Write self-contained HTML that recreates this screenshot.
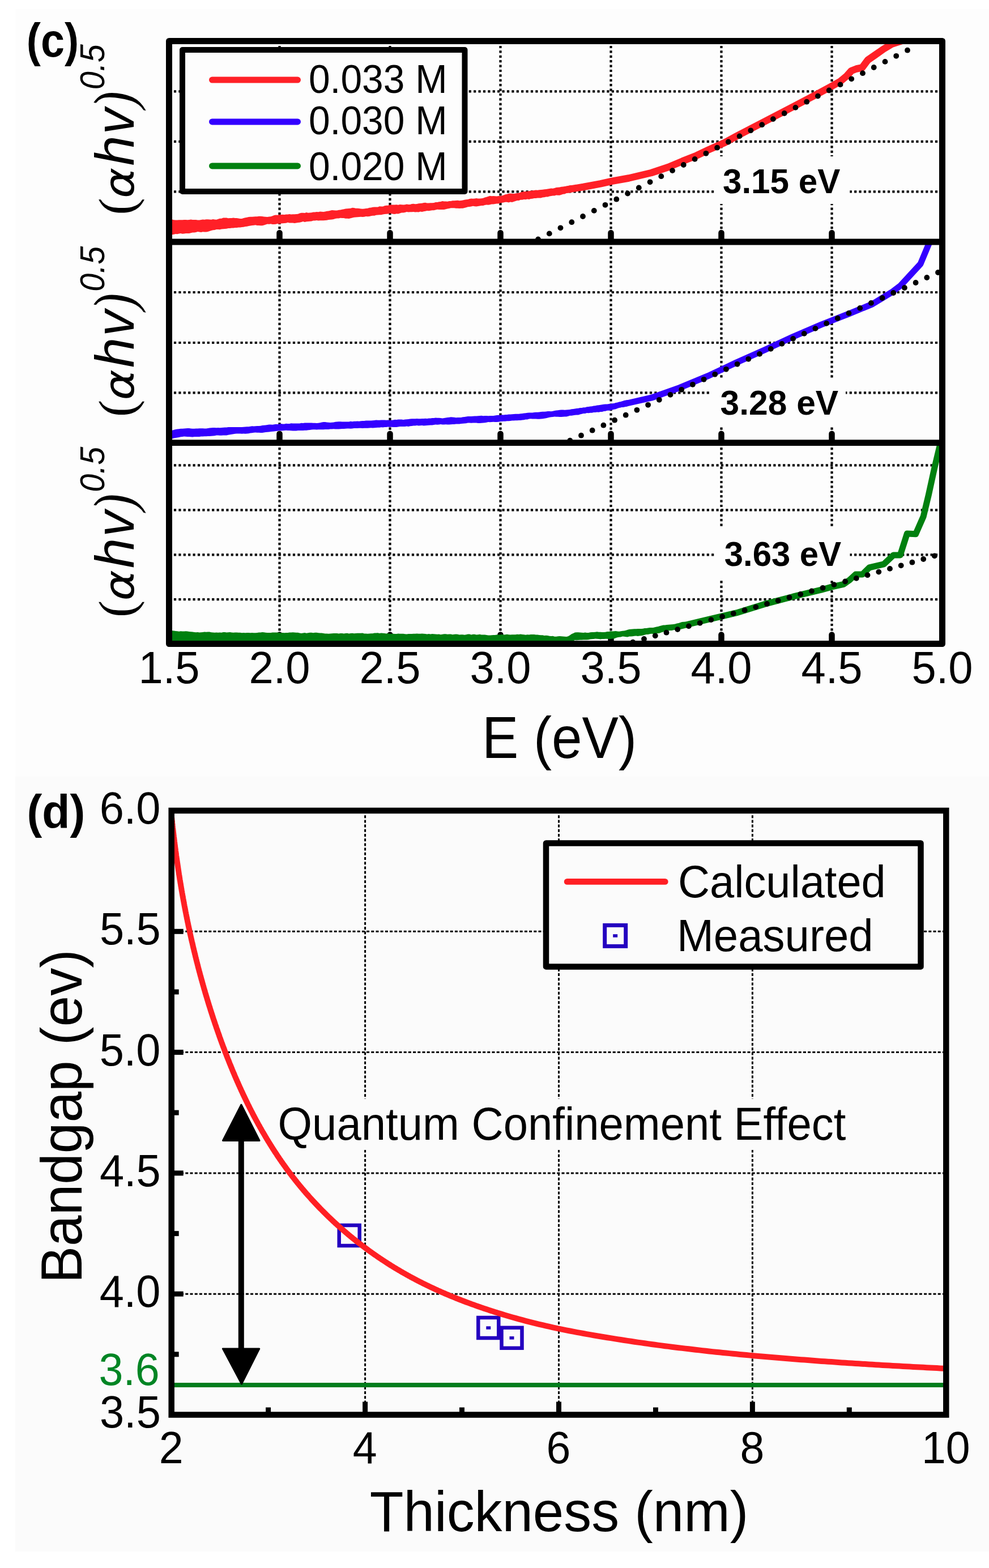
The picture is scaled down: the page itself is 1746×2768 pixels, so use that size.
<!DOCTYPE html>
<html><head><meta charset="utf-8"><style>
html,body{margin:0;padding:0;background:#fff;}
svg{display:block;}
text{font-family:"Liberation Sans", Arial, sans-serif;}
</style></head><body>
<svg width="1746" height="2768" viewBox="0 0 1746 2768">
<rect width="1746" height="2768" fill="#fff"/>
<rect x="27" y="16" width="1719" height="1355" fill="#fdfdfd"/>
<rect x="27" y="1371" width="1719" height="1368" fill="#fbfbfb"/>
<line x1="298.5" y1="161.3" x2="1663.5" y2="161.3" stroke="#000" stroke-width="4.2" stroke-dasharray="4.2 4.2" fill="none"/>
<line x1="298.5" y1="249.9" x2="1663.5" y2="249.9" stroke="#000" stroke-width="4.2" stroke-dasharray="4.2 4.2" fill="none"/>
<line x1="298.5" y1="338.4" x2="1663.5" y2="338.4" stroke="#000" stroke-width="4.2" stroke-dasharray="4.2 4.2" fill="none"/>
<line x1="298.5" y1="516.0" x2="1663.5" y2="516.0" stroke="#000" stroke-width="4.2" stroke-dasharray="4.2 4.2" fill="none"/>
<line x1="298.5" y1="605.0" x2="1663.5" y2="605.0" stroke="#000" stroke-width="4.2" stroke-dasharray="4.2 4.2" fill="none"/>
<line x1="298.5" y1="693.3" x2="1663.5" y2="693.3" stroke="#000" stroke-width="4.2" stroke-dasharray="4.2 4.2" fill="none"/>
<line x1="298.5" y1="821.4" x2="1663.5" y2="821.4" stroke="#000" stroke-width="4.2" stroke-dasharray="4.2 4.2" fill="none"/>
<line x1="298.5" y1="900.3" x2="1663.5" y2="900.3" stroke="#000" stroke-width="4.2" stroke-dasharray="4.2 4.2" fill="none"/>
<line x1="298.5" y1="979.4" x2="1663.5" y2="979.4" stroke="#000" stroke-width="4.2" stroke-dasharray="4.2 4.2" fill="none"/>
<line x1="298.5" y1="1058.2" x2="1663.5" y2="1058.2" stroke="#000" stroke-width="4.2" stroke-dasharray="4.2 4.2" fill="none"/>
<line x1="493.5" y1="72.5" x2="493.5" y2="427.0" stroke="#000" stroke-width="4.2" stroke-dasharray="4.2 4.2" fill="none"/>
<line x1="493.5" y1="427.0" x2="493.5" y2="781.7" stroke="#000" stroke-width="4.2" stroke-dasharray="4.2 4.2" fill="none"/>
<line x1="493.5" y1="781.7" x2="493.5" y2="1136.5" stroke="#000" stroke-width="4.2" stroke-dasharray="4.2 4.2" fill="none"/>
<line x1="688.5" y1="72.5" x2="688.5" y2="427.0" stroke="#000" stroke-width="4.2" stroke-dasharray="4.2 4.2" fill="none"/>
<line x1="688.5" y1="427.0" x2="688.5" y2="781.7" stroke="#000" stroke-width="4.2" stroke-dasharray="4.2 4.2" fill="none"/>
<line x1="688.5" y1="781.7" x2="688.5" y2="1136.5" stroke="#000" stroke-width="4.2" stroke-dasharray="4.2 4.2" fill="none"/>
<line x1="883.5" y1="72.5" x2="883.5" y2="427.0" stroke="#000" stroke-width="4.2" stroke-dasharray="4.2 4.2" fill="none"/>
<line x1="883.5" y1="427.0" x2="883.5" y2="781.7" stroke="#000" stroke-width="4.2" stroke-dasharray="4.2 4.2" fill="none"/>
<line x1="883.5" y1="781.7" x2="883.5" y2="1136.5" stroke="#000" stroke-width="4.2" stroke-dasharray="4.2 4.2" fill="none"/>
<line x1="1078.5" y1="72.5" x2="1078.5" y2="427.0" stroke="#000" stroke-width="4.2" stroke-dasharray="4.2 4.2" fill="none"/>
<line x1="1078.5" y1="427.0" x2="1078.5" y2="781.7" stroke="#000" stroke-width="4.2" stroke-dasharray="4.2 4.2" fill="none"/>
<line x1="1078.5" y1="781.7" x2="1078.5" y2="1136.5" stroke="#000" stroke-width="4.2" stroke-dasharray="4.2 4.2" fill="none"/>
<line x1="1273.5" y1="72.5" x2="1273.5" y2="427.0" stroke="#000" stroke-width="4.2" stroke-dasharray="4.2 4.2" fill="none"/>
<line x1="1273.5" y1="427.0" x2="1273.5" y2="781.7" stroke="#000" stroke-width="4.2" stroke-dasharray="4.2 4.2" fill="none"/>
<line x1="1273.5" y1="781.7" x2="1273.5" y2="1136.5" stroke="#000" stroke-width="4.2" stroke-dasharray="4.2 4.2" fill="none"/>
<line x1="1468.5" y1="72.5" x2="1468.5" y2="427.0" stroke="#000" stroke-width="4.2" stroke-dasharray="4.2 4.2" fill="none"/>
<line x1="1468.5" y1="427.0" x2="1468.5" y2="781.7" stroke="#000" stroke-width="4.2" stroke-dasharray="4.2 4.2" fill="none"/>
<line x1="1468.5" y1="781.7" x2="1468.5" y2="1136.5" stroke="#000" stroke-width="4.2" stroke-dasharray="4.2 4.2" fill="none"/>
<rect x="1260.7" y="276" width="239.5999999999999" height="84" fill="#fdfdfd"/>
<rect x="1255" y="667" width="238" height="87" fill="#fdfdfd"/>
<rect x="1262.5" y="931.4" width="238.0" height="92.20000000000005" fill="#fdfdfd"/>
<text x="1275.92" y="340.60" font-size="61.50" font-weight="bold" font-style="normal" textLength="207.49" lengthAdjust="spacingAndGlyphs" fill="#000" >3.15 eV</text>
<text x="1271.51" y="731.90" font-size="61.50" font-weight="bold" font-style="normal" textLength="208.70" lengthAdjust="spacingAndGlyphs" fill="#000" >3.28 eV</text>
<text x="1278.73" y="998.80" font-size="61.50" font-weight="bold" font-style="normal" textLength="206.38" lengthAdjust="spacingAndGlyphs" fill="#000" >3.63 eV</text>
<line x1="493.5" y1="427.0" x2="493.5" y2="411.0" stroke="#000" stroke-width="10.5" stroke-linecap="round"/>
<line x1="688.5" y1="427.0" x2="688.5" y2="411.0" stroke="#000" stroke-width="10.5" stroke-linecap="round"/>
<line x1="883.5" y1="427.0" x2="883.5" y2="411.0" stroke="#000" stroke-width="10.5" stroke-linecap="round"/>
<line x1="1078.5" y1="427.0" x2="1078.5" y2="411.0" stroke="#000" stroke-width="10.5" stroke-linecap="round"/>
<line x1="1273.5" y1="427.0" x2="1273.5" y2="411.0" stroke="#000" stroke-width="10.5" stroke-linecap="round"/>
<line x1="1468.5" y1="427.0" x2="1468.5" y2="411.0" stroke="#000" stroke-width="10.5" stroke-linecap="round"/>
<line x1="493.5" y1="781.7" x2="493.5" y2="765.7" stroke="#000" stroke-width="10.5" stroke-linecap="round"/>
<line x1="688.5" y1="781.7" x2="688.5" y2="765.7" stroke="#000" stroke-width="10.5" stroke-linecap="round"/>
<line x1="883.5" y1="781.7" x2="883.5" y2="765.7" stroke="#000" stroke-width="10.5" stroke-linecap="round"/>
<line x1="1078.5" y1="781.7" x2="1078.5" y2="765.7" stroke="#000" stroke-width="10.5" stroke-linecap="round"/>
<line x1="1273.5" y1="781.7" x2="1273.5" y2="765.7" stroke="#000" stroke-width="10.5" stroke-linecap="round"/>
<line x1="1468.5" y1="781.7" x2="1468.5" y2="765.7" stroke="#000" stroke-width="10.5" stroke-linecap="round"/>
<line x1="493.5" y1="1136.5" x2="493.5" y2="1120.5" stroke="#000" stroke-width="10.5" stroke-linecap="round"/>
<line x1="688.5" y1="1136.5" x2="688.5" y2="1120.5" stroke="#000" stroke-width="10.5" stroke-linecap="round"/>
<line x1="883.5" y1="1136.5" x2="883.5" y2="1120.5" stroke="#000" stroke-width="10.5" stroke-linecap="round"/>
<line x1="1078.5" y1="1136.5" x2="1078.5" y2="1120.5" stroke="#000" stroke-width="10.5" stroke-linecap="round"/>
<line x1="1273.5" y1="1136.5" x2="1273.5" y2="1120.5" stroke="#000" stroke-width="10.5" stroke-linecap="round"/>
<line x1="1468.5" y1="1136.5" x2="1468.5" y2="1120.5" stroke="#000" stroke-width="10.5" stroke-linecap="round"/>
<clipPath id="cp1"><rect x="298" y="72" width="1366" height="355"/></clipPath>
<clipPath id="cp2"><rect x="298" y="427" width="1366" height="355"/></clipPath>
<clipPath id="cp3"><rect x="298" y="781" width="1366" height="356"/></clipPath>
<g clip-path="url(#cp1)"><path d="M292.0,388.0 L295.0,387.3 L298.0,388.0 L301.0,387.7 L304.0,387.5 L307.0,388.2 L310.0,388.6 L313.0,388.4 L316.0,388.3 L319.0,388.3 L322.0,388.3 L325.0,388.0 L328.0,387.9 L331.0,388.2 L334.0,388.0 L337.0,387.5 L340.0,388.0 L343.0,388.0 L346.0,388.1 L349.0,388.5 L352.0,388.5 L355.0,388.0 L358.0,387.6 L361.0,387.7 L364.0,387.3 L367.0,387.2 L370.0,387.6 L373.0,387.8 L376.0,386.9 L379.0,387.6 L382.0,387.7 L385.0,386.7 L388.0,385.8 L391.0,385.7 L394.0,384.5 L397.0,384.5 L400.0,384.6 L403.0,385.2 L406.0,385.0 L409.0,384.9 L412.0,384.6 L415.0,385.0 L418.0,385.0 L421.0,385.6 L424.0,386.1 L427.0,385.9 L430.0,384.9 L433.0,384.2 L436.0,383.8 L439.0,383.1 L442.0,382.8 L445.0,382.8 L448.0,382.6 L451.0,382.3 L454.0,382.3 L457.0,381.7 L460.0,381.8 L463.0,382.1 L466.0,382.5 L469.0,382.8 L472.0,383.1 L475.0,382.5 L478.0,382.2 L481.0,381.2 L484.0,380.1 L487.0,379.5 L490.0,379.7 L493.0,378.7 L496.0,378.9 L499.0,378.8 L502.0,379.1 L505.0,378.6 L508.0,378.5 L511.0,378.1 L514.0,378.5 L517.0,378.3 L520.0,378.2 L523.0,377.9 L526.0,377.7 L529.0,376.6 L532.0,375.7 L535.0,375.8 L538.0,375.9 L541.0,375.1 L544.0,375.7 L547.0,375.4 L550.0,375.3 L553.0,374.6 L556.0,374.6 L559.0,374.0 L562.0,374.3 L565.0,373.4 L568.0,373.7 L571.0,374.1 L574.0,373.6 L577.0,372.7 L580.0,372.5 L583.0,371.7 L586.0,371.1 L589.0,371.2 L592.0,371.6 L595.0,371.4 L598.0,370.8 L601.0,370.4 L604.0,369.8 L607.0,369.3 L610.0,368.5 L613.0,368.2 L616.0,368.1 L619.0,367.7 L622.0,366.8 L625.0,367.0 L628.0,367.7 L631.0,367.7 L634.0,368.0 L637.0,368.6 L640.0,368.7 L643.0,368.5 L646.0,368.1 L649.0,367.8 L652.0,366.7 L655.0,366.5 L658.0,365.7 L661.0,365.5 L664.0,365.5 L667.0,365.4 L670.0,364.3 L673.0,364.6 L676.0,364.5 L679.0,363.3 L682.0,362.8 L685.0,362.7 L688.0,361.5 L691.0,361.6 L694.0,361.4 L697.0,361.5 L700.0,361.3 L703.0,361.7 L706.0,361.0 L709.0,361.3 L712.0,361.5 L715.0,361.3 L718.0,360.6 L721.0,361.0 L724.0,360.9 L727.0,360.0 L730.0,359.8 L733.0,360.3 L736.0,360.1 L739.0,359.2 L742.0,358.9 L745.0,358.7 L748.0,358.1 L751.0,357.7 L754.0,358.4 L757.0,358.5 L760.0,358.2 L763.0,358.2 L766.0,358.0 L769.0,357.0 L772.0,356.9 L775.0,356.3 L778.0,356.1 L781.0,354.9 L784.0,355.5 L787.0,355.4 L790.0,355.8 L793.0,354.9 L796.0,354.9 L799.0,354.2 L802.0,354.2 L805.0,353.9 L808.0,353.7 L811.0,354.3 L814.0,354.1 L817.0,353.4 L820.0,352.7 L823.0,352.3 L826.0,351.9 L829.0,350.9 L832.0,350.6 L835.0,350.7 L838.0,350.5 L841.0,350.0 L844.0,350.5 L847.0,350.5 L850.0,350.3 L853.0,349.8 L856.0,348.6 L859.0,347.7 L862.0,346.8 L865.0,345.8 L868.0,346.2 L871.0,346.1 L874.0,346.2 L877.0,346.5 L880.0,346.1 L883.0,345.8 L886.0,345.6 L889.0,344.5 L892.0,343.2 L895.0,342.7 L898.0,341.8 L901.0,341.4 L904.0,341.7 L907.0,342.0 L910.0,341.6 L913.0,341.1 L916.0,340.7 L919.0,339.5 L922.0,338.4 L925.0,338.2 L928.0,338.1 L931.0,337.7 L934.0,337.2 L937.0,336.7 L940.0,336.5 L943.0,335.9 L946.0,335.4 L949.0,335.7 L952.0,335.2 L955.0,335.1 L958.0,334.7 L961.0,334.2 L964.0,333.9 L967.0,333.6 L970.0,333.1 L973.0,332.6 L976.0,332.7 L979.0,332.0 L982.0,331.1 L985.0,330.8 L988.0,330.6 L991.0,329.8 L994.0,329.5 L997.0,329.1 L1000.0,328.7 L1003.0,328.0 L1006.0,327.3 L1009.0,327.1 L1009.0,339.5 L1006.0,340.2 L1003.0,340.3 L1000.0,341.0 L997.0,342.4 L994.0,342.7 L991.0,343.8 L988.0,344.7 L985.0,344.7 L982.0,344.5 L979.0,345.6 L976.0,345.5 L973.0,346.0 L970.0,346.4 L967.0,347.5 L964.0,347.4 L961.0,348.2 L958.0,348.4 L955.0,349.6 L952.0,349.4 L949.0,349.5 L946.0,350.1 L943.0,350.0 L940.0,350.7 L937.0,351.1 L934.0,352.0 L931.0,351.5 L928.0,352.2 L925.0,351.9 L922.0,352.7 L919.0,352.8 L916.0,353.9 L913.0,354.0 L910.0,355.1 L907.0,356.0 L904.0,356.9 L901.0,356.5 L898.0,357.4 L895.0,356.8 L892.0,356.7 L889.0,357.4 L886.0,358.1 L883.0,358.5 L880.0,359.4 L877.0,359.5 L874.0,359.9 L871.0,360.4 L868.0,360.4 L865.0,361.3 L862.0,361.7 L859.0,361.4 L856.0,362.0 L853.0,362.9 L850.0,363.1 L847.0,363.5 L844.0,363.9 L841.0,364.4 L838.0,364.2 L835.0,363.8 L832.0,364.6 L829.0,364.9 L826.0,365.2 L823.0,366.3 L820.0,367.0 L817.0,367.7 L814.0,367.8 L811.0,367.9 L808.0,367.7 L805.0,367.8 L802.0,367.3 L799.0,367.3 L796.0,367.3 L793.0,368.0 L790.0,368.5 L787.0,369.3 L784.0,369.9 L781.0,369.9 L778.0,370.0 L775.0,369.9 L772.0,369.8 L769.0,370.6 L766.0,371.3 L763.0,371.3 L760.0,371.7 L757.0,372.3 L754.0,372.1 L751.0,372.8 L748.0,373.2 L745.0,374.0 L742.0,373.6 L739.0,374.5 L736.0,374.2 L733.0,374.6 L730.0,373.9 L727.0,374.2 L724.0,374.2 L721.0,374.4 L718.0,374.0 L715.0,375.0 L712.0,375.4 L709.0,375.5 L706.0,376.6 L703.0,377.4 L700.0,377.3 L697.0,378.1 L694.0,377.7 L691.0,376.9 L688.0,376.7 L685.0,377.6 L682.0,377.7 L679.0,378.0 L676.0,378.5 L673.0,379.3 L670.0,379.3 L667.0,379.5 L664.0,379.8 L661.0,380.7 L658.0,380.8 L655.0,381.2 L652.0,382.0 L649.0,382.2 L646.0,381.9 L643.0,382.7 L640.0,383.0 L637.0,382.7 L634.0,382.9 L631.0,383.3 L628.0,383.4 L625.0,383.8 L622.0,384.5 L619.0,385.3 L616.0,386.0 L613.0,385.7 L610.0,385.8 L607.0,385.1 L604.0,384.9 L601.0,384.7 L598.0,385.4 L595.0,385.6 L592.0,385.9 L589.0,387.1 L586.0,387.4 L583.0,387.7 L580.0,388.0 L577.0,388.8 L574.0,389.1 L571.0,389.3 L568.0,389.3 L565.0,389.3 L562.0,389.4 L559.0,388.9 L556.0,389.6 L553.0,389.6 L550.0,390.6 L547.0,390.7 L544.0,391.0 L541.0,391.2 L538.0,391.9 L535.0,391.1 L532.0,391.9 L529.0,392.7 L526.0,393.0 L523.0,393.6 L520.0,393.9 L517.0,393.4 L514.0,393.4 L511.0,393.4 L508.0,392.7 L505.0,393.8 L502.0,394.1 L499.0,394.2 L496.0,394.4 L493.0,395.5 L490.0,394.8 L487.0,395.8 L484.0,396.0 L481.0,396.0 L478.0,395.2 L475.0,395.8 L472.0,395.6 L469.0,396.5 L466.0,397.5 L463.0,398.3 L460.0,398.2 L457.0,398.1 L454.0,397.9 L451.0,397.3 L448.0,397.7 L445.0,398.1 L442.0,398.5 L439.0,399.0 L436.0,399.8 L433.0,399.9 L430.0,400.8 L427.0,401.0 L424.0,401.4 L421.0,401.5 L418.0,402.1 L415.0,402.0 L412.0,402.4 L409.0,402.4 L406.0,403.1 L403.0,402.9 L400.0,403.7 L397.0,404.1 L394.0,404.2 L391.0,404.5 L388.0,405.3 L385.0,405.0 L382.0,405.1 L379.0,405.9 L376.0,406.3 L373.0,407.0 L370.0,407.9 L367.0,409.0 L364.0,409.6 L361.0,409.4 L358.0,409.3 L355.0,410.0 L352.0,409.4 L349.0,409.1 L346.0,410.1 L343.0,410.5 L340.0,410.6 L337.0,411.2 L334.0,412.1 L331.0,411.9 L328.0,411.9 L325.0,412.5 L322.0,412.8 L319.0,412.1 L316.0,412.6 L313.0,413.3 L310.0,413.1 L307.0,413.7 L304.0,414.2 L301.0,414.5 L298.0,415.2 L295.0,415.3 L292.0,415.6 Z" fill="#ff2027"/><path d="M1000.0,334.8 L1030.0,330.0 L1060.0,324.4 L1080.0,319.9 L1110.0,314.5 L1150.0,305.0 L1180.0,295.0 L1205.0,284.4 L1230.0,274.5 L1251.0,264.4 L1279.0,252.0 L1300.0,240.5 L1350.0,214.5 L1400.0,188.5 L1440.0,167.5 L1465.0,154.0 L1483.0,144.0 L1495.0,134.0 L1503.0,125.0 L1512.0,121.5 L1522.0,119.5 L1532.0,106.0 L1545.0,97.0 L1560.0,86.5 L1575.0,77.5 L1592.0,72.0" stroke="#ff2027" stroke-width="12.5" fill="none" stroke-linejoin="round" stroke-linecap="round"/></g>
<g clip-path="url(#cp2)"><path d="M292.0,760.5 L295.0,760.8 L298.0,760.9 L301.0,760.4 L304.0,759.7 L307.0,758.8 L310.0,757.9 L313.0,757.5 L316.0,757.3 L319.0,756.8 L322.0,756.7 L325.0,756.5 L328.0,756.2 L331.0,756.1 L334.0,756.0 L337.0,756.4 L340.0,756.7 L343.0,756.7 L346.0,756.6 L349.0,756.4 L352.0,756.3 L355.0,756.3 L358.0,756.3 L361.0,756.4 L364.0,756.4 L367.0,755.9 L370.0,755.5 L373.0,755.2 L376.0,755.0 L379.0,755.1 L382.0,755.3 L385.0,755.1 L388.0,755.3 L391.0,755.1 L394.0,754.8 L397.0,754.6 L400.0,754.6 L403.0,754.1 L406.0,753.9 L409.0,753.9 L412.0,753.9 L415.0,754.1 L418.0,753.9 L421.0,754.1 L424.0,754.0 L427.0,753.9 L430.0,753.7 L433.0,753.5 L436.0,753.3 L439.0,753.2 L442.0,752.7 L445.0,752.3 L448.0,752.6 L451.0,752.2 L454.0,751.9 L457.0,752.1 L460.0,751.8 L463.0,751.0 L466.0,750.8 L469.0,750.5 L472.0,749.9 L475.0,749.6 L478.0,749.6 L481.0,749.8 L484.0,749.2 L487.0,748.7 L490.0,748.9 L493.0,748.5 L496.0,748.0 L499.0,748.4 L502.0,748.5 L505.0,747.8 L508.0,748.1 L511.0,747.9 L514.0,747.3 L517.0,747.6 L520.0,747.6 L523.0,747.5 L526.0,747.4 L529.0,747.4 L532.0,746.8 L535.0,746.9 L538.0,746.6 L541.0,746.5 L544.0,746.5 L547.0,746.5 L550.0,746.6 L553.0,746.7 L556.0,746.8 L559.0,746.9 L562.0,746.7 L565.0,746.2 L568.0,745.6 L571.0,745.1 L574.0,745.1 L577.0,745.5 L580.0,745.8 L583.0,746.0 L586.0,745.8 L589.0,745.4 L592.0,744.7 L595.0,744.6 L598.0,744.3 L601.0,744.3 L604.0,744.5 L607.0,744.5 L610.0,744.4 L613.0,744.4 L616.0,744.5 L619.0,743.8 L622.0,744.2 L625.0,743.7 L628.0,743.7 L631.0,743.6 L634.0,743.8 L637.0,743.2 L640.0,742.9 L643.0,743.0 L646.0,742.5 L649.0,742.6 L652.0,742.5 L655.0,742.4 L658.0,742.2 L661.0,742.1 L664.0,741.6 L667.0,741.7 L670.0,741.7 L673.0,741.6 L676.0,741.6 L679.0,741.6 L682.0,741.7 L685.0,741.6 L688.0,741.8 L691.0,741.8 L694.0,741.4 L697.0,740.8 L700.0,741.0 L703.0,740.6 L706.0,740.5 L709.0,740.6 L712.0,740.9 L715.0,740.4 L718.0,740.2 L721.0,740.1 L724.0,739.6 L727.0,739.3 L730.0,739.2 L733.0,739.2 L736.0,739.1 L739.0,739.3 L742.0,739.2 L745.0,738.9 L748.0,739.1 L751.0,738.7 L754.0,738.9 L757.0,738.4 L760.0,738.6 L763.0,738.0 L766.0,737.9 L769.0,737.5 L772.0,737.8 L775.0,737.7 L778.0,738.0 L781.0,738.5 L784.0,738.0 L787.0,737.6 L790.0,737.0 L793.0,736.7 L796.0,736.3 L799.0,736.6 L802.0,736.7 L805.0,737.2 L808.0,737.0 L811.0,737.1 L814.0,736.9 L817.0,736.3 L820.0,736.1 L823.0,735.5 L826.0,734.9 L829.0,734.9 L832.0,734.9 L835.0,734.7 L838.0,734.5 L841.0,734.4 L844.0,734.2 L847.0,733.9 L850.0,733.7 L853.0,734.2 L856.0,734.0 L859.0,733.9 L862.0,734.2 L865.0,734.1 L868.0,733.9 L871.0,734.1 L874.0,733.5 L877.0,733.0 L880.0,732.8 L883.0,732.8 L886.0,732.3 L889.0,732.4 L892.0,732.1 L895.0,732.1 L898.0,731.5 L901.0,731.5 L904.0,731.3 L907.0,731.1 L910.0,730.7 L913.0,730.7 L916.0,730.7 L919.0,730.2 L922.0,730.0 L925.0,729.4 L928.0,729.3 L931.0,728.7 L934.0,728.6 L937.0,728.5 L940.0,728.6 L943.0,728.0 L946.0,727.7 L949.0,727.7 L952.0,727.6 L955.0,727.1 L958.0,726.7 L961.0,726.8 L964.0,726.5 L967.0,726.1 L970.0,726.0 L973.0,726.3 L976.0,725.7 L979.0,725.1 L982.0,724.5 L985.0,724.2 L988.0,723.7 L991.0,723.4 L994.0,723.6 L997.0,723.7 L1000.0,723.6 L1003.0,723.2 L1006.0,723.0 L1009.0,722.3 L1012.0,721.9 L1015.0,721.5 L1018.0,721.0 L1021.0,720.7 L1024.0,720.1 L1027.0,719.9 L1030.0,719.3 L1033.0,719.2 L1036.0,718.3 L1039.0,718.1 L1042.0,717.5 L1045.0,717.3 L1048.0,716.5 L1051.0,716.2 L1054.0,715.6 L1057.0,715.3 L1060.0,714.8 L1063.0,714.3 L1066.0,713.8 L1069.0,713.5 L1072.0,713.4 L1075.0,712.9 L1078.0,712.9 L1081.0,712.3 L1084.0,711.9 L1087.0,711.1 L1090.0,710.6 L1093.0,709.5 L1096.0,709.0 L1099.0,708.2 L1102.0,707.0 L1105.0,706.4 L1108.0,705.9 L1108.0,717.3 L1105.0,717.7 L1102.0,717.8 L1099.0,718.3 L1096.0,719.4 L1093.0,720.1 L1090.0,721.0 L1087.0,722.2 L1084.0,722.7 L1081.0,723.4 L1078.0,724.2 L1075.0,724.7 L1072.0,724.8 L1069.0,725.8 L1066.0,726.1 L1063.0,726.9 L1060.0,727.0 L1057.0,727.7 L1054.0,727.5 L1051.0,728.0 L1048.0,727.9 L1045.0,728.7 L1042.0,728.7 L1039.0,729.3 L1036.0,729.1 L1033.0,729.9 L1030.0,730.1 L1027.0,730.7 L1024.0,731.5 L1021.0,732.4 L1018.0,732.5 L1015.0,732.8 L1012.0,733.3 L1009.0,733.7 L1006.0,733.7 L1003.0,734.7 L1000.0,735.4 L997.0,735.4 L994.0,735.7 L991.0,735.9 L988.0,735.9 L985.0,735.8 L982.0,735.8 L979.0,735.5 L976.0,735.9 L973.0,736.3 L970.0,736.8 L967.0,737.6 L964.0,738.2 L961.0,738.7 L958.0,739.2 L955.0,739.6 L952.0,739.8 L949.0,739.8 L946.0,739.5 L943.0,739.6 L940.0,739.4 L937.0,739.2 L934.0,739.6 L931.0,740.4 L928.0,740.6 L925.0,741.3 L922.0,741.6 L919.0,742.1 L916.0,742.0 L913.0,742.3 L910.0,742.2 L907.0,742.5 L904.0,742.5 L901.0,743.1 L898.0,743.2 L895.0,743.3 L892.0,743.8 L889.0,743.8 L886.0,744.0 L883.0,744.2 L880.0,744.7 L877.0,745.0 L874.0,745.0 L871.0,744.8 L868.0,745.0 L865.0,745.3 L862.0,745.1 L859.0,745.7 L856.0,746.3 L853.0,746.5 L850.0,746.8 L847.0,746.9 L844.0,747.0 L841.0,746.6 L838.0,746.6 L835.0,746.6 L832.0,746.8 L829.0,746.6 L826.0,746.6 L823.0,747.3 L820.0,747.6 L817.0,747.8 L814.0,748.0 L811.0,748.6 L808.0,748.5 L805.0,748.5 L802.0,748.9 L799.0,749.0 L796.0,749.2 L793.0,749.5 L790.0,749.4 L787.0,749.2 L784.0,749.6 L781.0,749.5 L778.0,749.1 L775.0,749.6 L772.0,749.7 L769.0,749.6 L766.0,750.1 L763.0,750.5 L760.0,750.5 L757.0,750.8 L754.0,751.1 L751.0,751.2 L748.0,751.4 L745.0,751.1 L742.0,751.3 L739.0,751.4 L736.0,751.0 L733.0,751.4 L730.0,751.6 L727.0,751.9 L724.0,752.2 L721.0,752.9 L718.0,752.6 L715.0,753.0 L712.0,752.9 L709.0,753.0 L706.0,752.9 L703.0,753.5 L700.0,753.9 L697.0,753.9 L694.0,753.9 L691.0,753.8 L688.0,753.9 L685.0,753.6 L682.0,753.9 L679.0,754.0 L676.0,754.6 L673.0,754.3 L670.0,754.7 L667.0,754.8 L664.0,755.0 L661.0,755.2 L658.0,755.6 L655.0,755.2 L652.0,755.6 L649.0,755.8 L646.0,755.7 L643.0,755.7 L640.0,756.1 L637.0,755.8 L634.0,755.8 L631.0,755.9 L628.0,755.9 L625.0,756.0 L622.0,756.4 L619.0,756.7 L616.0,756.4 L613.0,756.6 L610.0,756.7 L607.0,756.9 L604.0,757.1 L601.0,757.3 L598.0,757.6 L595.0,757.6 L592.0,757.4 L589.0,757.2 L586.0,757.4 L583.0,757.6 L580.0,757.9 L577.0,757.9 L574.0,757.9 L571.0,758.2 L568.0,758.3 L565.0,758.3 L562.0,758.3 L559.0,758.6 L556.0,758.3 L553.0,758.3 L550.0,758.4 L547.0,759.0 L544.0,759.3 L541.0,759.8 L538.0,759.7 L535.0,759.9 L532.0,759.9 L529.0,759.9 L526.0,760.0 L523.0,760.6 L520.0,760.5 L517.0,760.4 L514.0,760.2 L511.0,760.1 L508.0,760.0 L505.0,759.8 L502.0,760.1 L499.0,760.2 L496.0,760.4 L493.0,760.3 L490.0,760.8 L487.0,761.0 L484.0,761.6 L481.0,761.7 L478.0,762.0 L475.0,762.4 L472.0,762.7 L469.0,763.0 L466.0,763.4 L463.0,763.9 L460.0,764.0 L457.0,763.8 L454.0,763.8 L451.0,763.5 L448.0,763.8 L445.0,764.2 L442.0,764.6 L439.0,765.2 L436.0,765.6 L433.0,765.8 L430.0,765.6 L427.0,765.8 L424.0,765.6 L421.0,765.6 L418.0,765.5 L415.0,765.8 L412.0,766.2 L409.0,766.7 L406.0,767.2 L403.0,767.8 L400.0,768.4 L397.0,768.6 L394.0,768.5 L391.0,768.7 L388.0,768.7 L385.0,768.5 L382.0,768.5 L379.0,769.2 L376.0,769.6 L373.0,769.7 L370.0,770.0 L367.0,770.0 L364.0,770.3 L361.0,770.2 L358.0,770.6 L355.0,770.6 L352.0,771.0 L349.0,770.9 L346.0,771.0 L343.0,771.0 L340.0,771.6 L337.0,771.3 L334.0,771.1 L331.0,771.0 L328.0,770.8 L325.0,770.5 L322.0,770.9 L319.0,771.3 L316.0,772.1 L313.0,772.6 L310.0,773.1 L307.0,773.6 L304.0,774.4 L301.0,774.9 L298.0,775.7 L295.0,775.9 L292.0,775.7 Z" fill="#3300ff"/><path d="M1100.0,713.5 L1150.0,702.2 L1200.0,684.4 L1250.0,663.7 L1300.0,640.0 L1350.0,617.8 L1400.0,594.5 L1450.0,573.0 L1500.0,553.3 L1540.0,536.9 L1575.0,515.5 L1590.0,504.0 L1625.0,466.0 L1640.0,430.0" stroke="#3300ff" stroke-width="11" fill="none" stroke-linejoin="round" stroke-linecap="round"/></g>
<g clip-path="url(#cp3)"><path d="M292.0,1114.0 L295.0,1113.4 L298.0,1113.1 L301.0,1112.8 L304.0,1113.3 L307.0,1113.5 L310.0,1114.0 L313.0,1114.2 L316.0,1114.7 L319.0,1114.3 L322.0,1114.4 L325.0,1114.5 L328.0,1114.3 L331.0,1114.4 L334.0,1115.1 L337.0,1115.3 L340.0,1115.6 L343.0,1116.0 L346.0,1116.3 L349.0,1116.0 L352.0,1116.4 L355.0,1116.2 L358.0,1115.9 L361.0,1115.6 L364.0,1115.7 L367.0,1115.5 L370.0,1115.6 L373.0,1116.2 L376.0,1116.5 L379.0,1116.8 L382.0,1116.6 L385.0,1116.7 L388.0,1116.5 L391.0,1116.7 L394.0,1116.1 L397.0,1116.1 L400.0,1116.4 L403.0,1116.2 L406.0,1116.1 L409.0,1116.6 L412.0,1116.8 L415.0,1116.4 L418.0,1116.6 L421.0,1116.8 L424.0,1116.8 L427.0,1117.2 L430.0,1117.1 L433.0,1117.2 L436.0,1116.9 L439.0,1117.1 L442.0,1117.2 L445.0,1117.1 L448.0,1117.3 L451.0,1117.3 L454.0,1116.9 L457.0,1116.6 L460.0,1116.6 L463.0,1116.0 L466.0,1116.2 L469.0,1116.7 L472.0,1117.0 L475.0,1117.1 L478.0,1117.0 L481.0,1116.6 L484.0,1116.5 L487.0,1116.4 L490.0,1116.5 L493.0,1117.1 L496.0,1117.3 L499.0,1117.1 L502.0,1117.2 L505.0,1117.1 L508.0,1116.9 L511.0,1116.6 L514.0,1116.4 L517.0,1116.2 L520.0,1116.6 L523.0,1116.7 L526.0,1116.8 L529.0,1117.6 L532.0,1117.9 L535.0,1117.6 L538.0,1117.1 L541.0,1117.7 L544.0,1117.2 L547.0,1116.7 L550.0,1116.7 L553.0,1117.3 L556.0,1116.7 L559.0,1116.7 L562.0,1117.2 L565.0,1117.4 L568.0,1117.4 L571.0,1118.0 L574.0,1118.4 L577.0,1118.4 L580.0,1118.7 L583.0,1118.4 L586.0,1118.2 L589.0,1118.1 L592.0,1118.1 L595.0,1118.0 L598.0,1118.4 L601.0,1118.0 L604.0,1118.1 L607.0,1118.5 L610.0,1118.1 L613.0,1117.7 L616.0,1118.4 L619.0,1117.9 L622.0,1117.7 L625.0,1118.2 L628.0,1118.1 L631.0,1117.8 L634.0,1117.8 L637.0,1117.8 L640.0,1117.6 L643.0,1118.4 L646.0,1118.6 L649.0,1118.8 L652.0,1118.4 L655.0,1118.3 L658.0,1118.2 L661.0,1117.5 L664.0,1117.5 L667.0,1117.3 L670.0,1117.9 L673.0,1117.5 L676.0,1117.7 L679.0,1118.1 L682.0,1118.5 L685.0,1118.1 L688.0,1118.7 L691.0,1118.8 L694.0,1118.8 L697.0,1119.1 L700.0,1119.0 L703.0,1118.4 L706.0,1118.8 L709.0,1118.7 L712.0,1118.8 L715.0,1119.3 L718.0,1119.5 L721.0,1119.1 L724.0,1119.0 L727.0,1119.0 L730.0,1118.7 L733.0,1118.7 L736.0,1118.6 L739.0,1118.7 L742.0,1118.7 L745.0,1118.5 L748.0,1118.7 L751.0,1119.1 L754.0,1119.4 L757.0,1119.1 L760.0,1119.4 L763.0,1119.1 L766.0,1119.3 L769.0,1119.6 L772.0,1119.7 L775.0,1119.6 L778.0,1120.3 L781.0,1119.8 L784.0,1119.2 L787.0,1119.3 L790.0,1119.8 L793.0,1119.5 L796.0,1119.5 L799.0,1120.2 L802.0,1119.8 L805.0,1119.4 L808.0,1119.8 L811.0,1120.4 L814.0,1120.3 L817.0,1120.2 L820.0,1120.7 L823.0,1120.2 L826.0,1119.6 L829.0,1119.6 L832.0,1120.4 L835.0,1119.7 L838.0,1119.8 L841.0,1120.6 L844.0,1120.3 L847.0,1119.7 L850.0,1120.4 L853.0,1120.4 L856.0,1120.5 L859.0,1121.0 L862.0,1121.5 L865.0,1121.5 L868.0,1121.3 L871.0,1121.1 L874.0,1120.9 L877.0,1120.6 L880.0,1120.5 L883.0,1120.6 L886.0,1120.1 L889.0,1120.4 L892.0,1120.2 L895.0,1119.7 L898.0,1120.2 L901.0,1120.5 L904.0,1120.3 L907.0,1120.2 L910.0,1120.3 L913.0,1119.7 L916.0,1120.0 L919.0,1119.6 L922.0,1120.1 L925.0,1120.2 L928.0,1120.7 L931.0,1120.2 L934.0,1120.6 L937.0,1120.1 L940.0,1120.1 L943.0,1120.0 L946.0,1120.4 L949.0,1120.6 L952.0,1120.9 L955.0,1121.2 L958.0,1121.3 L961.0,1121.9 L964.0,1121.7 L967.0,1122.1 L970.0,1122.7 L973.0,1123.1 L976.0,1122.8 L979.0,1123.8 L982.0,1123.7 L985.0,1123.3 L988.0,1123.0 L991.0,1123.3 L994.0,1123.4 L997.0,1123.7 L1000.0,1124.1 L1003.0,1123.3 L1006.0,1121.5 L1009.0,1119.3 L1012.0,1118.1 L1015.0,1116.5 L1018.0,1116.2 L1021.0,1116.2 L1024.0,1116.6 L1027.0,1116.7 L1030.0,1116.9 L1033.0,1116.6 L1036.0,1116.9 L1039.0,1117.0 L1042.0,1116.2 L1045.0,1115.9 L1048.0,1115.9 L1051.0,1115.8 L1054.0,1115.3 L1057.0,1115.8 L1060.0,1115.7 L1063.0,1116.1 L1066.0,1115.9 L1069.0,1115.7 L1072.0,1115.1 L1075.0,1115.0 L1078.0,1114.3 L1081.0,1114.4 L1084.0,1114.2 L1087.0,1114.1 L1090.0,1114.5 L1093.0,1114.8 L1096.0,1114.3 L1099.0,1113.8 L1102.0,1113.4 L1105.0,1112.7 L1108.0,1111.8 L1111.0,1111.1 L1114.0,1110.8 L1117.0,1110.4 L1120.0,1110.3 L1123.0,1110.3 L1126.0,1110.1 L1129.0,1110.0 L1132.0,1110.0 L1135.0,1109.7 L1138.0,1108.9 L1141.0,1108.9 L1144.0,1108.6 L1147.0,1108.0 L1150.0,1108.0 L1153.0,1108.1 L1156.0,1107.2 L1159.0,1106.4 L1162.0,1106.0 L1165.0,1105.1 L1168.0,1104.3 L1171.0,1103.6 L1174.0,1103.6 L1177.0,1103.0 L1180.0,1102.8 L1183.0,1102.5 L1186.0,1102.2 L1189.0,1101.9 L1192.0,1101.6 L1195.0,1100.6 L1198.0,1099.9 L1201.0,1099.1 L1204.0,1098.1 L1207.0,1097.8 L1210.0,1097.8 L1210.0,1108.9 L1207.0,1109.0 L1204.0,1109.7 L1201.0,1109.7 L1198.0,1110.7 L1195.0,1110.8 L1192.0,1111.7 L1189.0,1112.3 L1186.0,1112.9 L1183.0,1113.0 L1180.0,1113.5 L1177.0,1113.9 L1174.0,1114.4 L1171.0,1115.4 L1168.0,1116.3 L1165.0,1117.5 L1162.0,1117.9 L1159.0,1118.3 L1156.0,1118.9 L1153.0,1119.0 L1150.0,1118.8 L1147.0,1119.2 L1144.0,1120.0 L1141.0,1120.0 L1138.0,1120.8 L1135.0,1121.8 L1132.0,1122.2 L1129.0,1122.5 L1126.0,1122.9 L1123.0,1122.5 L1120.0,1122.8 L1117.0,1123.2 L1114.0,1123.5 L1111.0,1123.5 L1108.0,1124.4 L1105.0,1124.2 L1102.0,1123.8 L1099.0,1123.6 L1096.0,1124.6 L1093.0,1124.8 L1090.0,1125.2 L1087.0,1126.3 L1084.0,1127.4 L1081.0,1127.5 L1078.0,1127.9 L1075.0,1127.9 L1072.0,1127.8 L1069.0,1127.7 L1066.0,1128.0 L1063.0,1128.0 L1060.0,1128.5 L1057.0,1128.1 L1054.0,1127.7 L1051.0,1127.5 L1048.0,1128.0 L1045.0,1128.3 L1042.0,1128.5 L1039.0,1129.3 L1036.0,1129.6 L1033.0,1129.5 L1030.0,1129.4 L1027.0,1129.7 L1024.0,1129.8 L1021.0,1130.0 L1018.0,1130.2 L1015.0,1130.0 L1012.0,1131.2 L1009.0,1132.7 L1006.0,1134.2 L1003.0,1135.2 L1000.0,1137.4 L997.0,1137.2 L994.0,1137.2 L991.0,1136.7 L988.0,1136.4 L985.0,1135.7 L982.0,1136.1 L979.0,1135.7 L976.0,1135.6 L973.0,1136.1 L970.0,1136.6 L967.0,1136.2 L964.0,1136.0 L961.0,1136.1 L958.0,1135.8 L955.0,1135.3 L952.0,1135.8 L949.0,1135.6 L946.0,1135.5 L943.0,1135.5 L940.0,1135.2 L937.0,1135.0 L934.0,1134.8 L931.0,1134.5 L928.0,1134.1 L925.0,1134.1 L922.0,1134.3 L919.0,1134.8 L916.0,1134.7 L913.0,1134.9 L910.0,1135.4 L907.0,1135.5 L904.0,1135.3 L901.0,1136.1 L898.0,1136.7 L895.0,1136.8 L892.0,1136.9 L889.0,1137.5 L886.0,1137.5 L883.0,1137.1 L880.0,1137.0 L877.0,1136.8 L874.0,1136.7 L871.0,1136.5 L868.0,1136.5 L865.0,1137.0 L862.0,1136.9 L859.0,1136.3 L856.0,1136.2 L853.0,1136.4 L850.0,1136.2 L847.0,1136.4 L844.0,1136.9 L841.0,1136.5 L838.0,1136.0 L835.0,1135.8 L832.0,1135.9 L829.0,1135.9 L826.0,1136.1 L823.0,1136.7 L820.0,1136.8 L817.0,1136.7 L814.0,1136.4 L811.0,1136.4 L808.0,1136.2 L805.0,1135.9 L802.0,1135.3 L799.0,1135.2 L796.0,1135.4 L793.0,1135.1 L790.0,1135.0 L787.0,1135.1 L784.0,1135.4 L781.0,1135.0 L778.0,1135.3 L775.0,1135.4 L772.0,1135.9 L769.0,1135.2 L766.0,1135.5 L763.0,1135.5 L760.0,1135.7 L757.0,1135.7 L754.0,1135.8 L751.0,1135.2 L748.0,1134.7 L745.0,1135.0 L742.0,1134.6 L739.0,1135.0 L736.0,1135.0 L733.0,1135.0 L730.0,1134.4 L727.0,1134.1 L724.0,1134.1 L721.0,1134.0 L718.0,1133.9 L715.0,1134.0 L712.0,1133.7 L709.0,1133.6 L706.0,1134.1 L703.0,1134.7 L700.0,1135.0 L697.0,1135.7 L694.0,1136.1 L691.0,1136.1 L688.0,1136.2 L685.0,1135.9 L682.0,1135.3 L679.0,1135.1 L676.0,1135.1 L673.0,1134.9 L670.0,1135.4 L667.0,1135.5 L664.0,1135.0 L661.0,1134.2 L658.0,1133.8 L655.0,1133.6 L652.0,1133.9 L649.0,1133.9 L646.0,1134.3 L643.0,1134.4 L640.0,1134.5 L637.0,1134.2 L634.0,1134.8 L631.0,1134.6 L628.0,1134.9 L625.0,1134.9 L622.0,1134.7 L619.0,1134.9 L616.0,1135.5 L613.0,1134.8 L610.0,1134.3 L607.0,1135.0 L604.0,1134.8 L601.0,1134.2 L598.0,1134.7 L595.0,1135.2 L592.0,1134.7 L589.0,1134.5 L586.0,1134.7 L583.0,1134.6 L580.0,1134.2 L577.0,1134.4 L574.0,1134.1 L571.0,1134.5 L568.0,1133.9 L565.0,1134.3 L562.0,1134.0 L559.0,1134.4 L556.0,1134.1 L553.0,1134.6 L550.0,1134.2 L547.0,1134.7 L544.0,1134.1 L541.0,1133.7 L538.0,1133.9 L535.0,1133.8 L532.0,1133.1 L529.0,1133.4 L526.0,1133.6 L523.0,1133.2 L520.0,1133.5 L517.0,1134.1 L514.0,1134.1 L511.0,1134.2 L508.0,1134.6 L505.0,1134.1 L502.0,1134.1 L499.0,1134.1 L496.0,1134.2 L493.0,1133.6 L490.0,1133.8 L487.0,1133.7 L484.0,1134.1 L481.0,1133.7 L478.0,1134.2 L475.0,1134.1 L472.0,1134.2 L469.0,1133.8 L466.0,1134.3 L463.0,1134.3 L460.0,1134.9 L457.0,1134.6 L454.0,1134.6 L451.0,1134.5 L448.0,1133.9 L445.0,1133.4 L442.0,1133.9 L439.0,1134.1 L436.0,1134.2 L433.0,1134.6 L430.0,1134.8 L427.0,1134.9 L424.0,1134.7 L421.0,1134.8 L418.0,1135.0 L415.0,1135.2 L412.0,1134.5 L409.0,1134.2 L406.0,1134.1 L403.0,1133.5 L400.0,1133.5 L397.0,1134.3 L394.0,1134.3 L391.0,1134.2 L388.0,1134.2 L385.0,1134.0 L382.0,1133.6 L379.0,1133.5 L376.0,1133.3 L373.0,1133.6 L370.0,1133.5 L367.0,1133.5 L364.0,1133.6 L361.0,1133.5 L358.0,1133.5 L355.0,1133.9 L352.0,1133.7 L349.0,1133.7 L346.0,1134.0 L343.0,1134.2 L340.0,1133.5 L337.0,1133.9 L334.0,1134.2 L331.0,1134.0 L328.0,1134.1 L325.0,1134.4 L322.0,1134.6 L319.0,1134.9 L316.0,1135.1 L313.0,1135.2 L310.0,1134.9 L307.0,1134.9 L304.0,1134.8 L301.0,1134.7 L298.0,1134.6 L295.0,1134.7 L292.0,1134.7 Z" fill="#00800f"/><path d="M1200.0,1105.6 L1250.0,1093.7 L1300.0,1081.9 L1350.0,1066.4 L1400.0,1053.2 L1450.0,1041.2 L1468.9,1035.9 L1489.4,1031.4 L1500.0,1023.8 L1510.6,1013.9 L1522.7,1013.9 L1534.8,1001.8 L1560.5,995.8 L1577.2,979.9 L1589.3,979.9 L1601.4,942.0 L1616.6,942.8 L1630.2,911.7 L1639.3,873.9 L1649.9,825.4 L1659.7,784.5" stroke="#00800f" stroke-width="11" fill="none" stroke-linejoin="round" stroke-linecap="round"/></g>
<g fill="#000">
<circle cx="950.0" cy="422.5" r="4.9"/>
<circle cx="969.8" cy="412.4" r="4.9"/>
<circle cx="989.5" cy="402.3" r="4.9"/>
<circle cx="1009.3" cy="392.2" r="4.9"/>
<circle cx="1029.0" cy="382.0" r="4.9"/>
<circle cx="1048.8" cy="371.9" r="4.9"/>
<circle cx="1068.5" cy="361.8" r="4.9"/>
<circle cx="1088.3" cy="351.7" r="4.9"/>
<circle cx="1108.1" cy="341.6" r="4.9"/>
<circle cx="1127.8" cy="331.5" r="4.9"/>
<circle cx="1147.6" cy="321.3" r="4.9"/>
<circle cx="1167.3" cy="311.2" r="4.9"/>
<circle cx="1187.1" cy="301.1" r="4.9"/>
<circle cx="1206.8" cy="291.0" r="4.9"/>
<circle cx="1226.6" cy="280.9" r="4.9"/>
<circle cx="1246.4" cy="270.8" r="4.9"/>
<circle cx="1266.1" cy="260.7" r="4.9"/>
<circle cx="1285.9" cy="250.5" r="4.9"/>
<circle cx="1305.6" cy="240.4" r="4.9"/>
<circle cx="1325.4" cy="230.3" r="4.9"/>
<circle cx="1345.2" cy="220.2" r="4.9"/>
<circle cx="1364.9" cy="210.1" r="4.9"/>
<circle cx="1384.7" cy="200.0" r="4.9"/>
<circle cx="1404.4" cy="189.9" r="4.9"/>
<circle cx="1424.2" cy="179.7" r="4.9"/>
<circle cx="1443.9" cy="169.6" r="4.9"/>
<circle cx="1463.7" cy="159.5" r="4.9"/>
<circle cx="1483.5" cy="149.4" r="4.9"/>
<circle cx="1503.2" cy="139.3" r="4.9"/>
<circle cx="1523.0" cy="129.2" r="4.9"/>
<circle cx="1542.7" cy="119.0" r="4.9"/>
<circle cx="1562.5" cy="108.9" r="4.9"/>
<circle cx="1582.2" cy="98.8" r="4.9"/>
<circle cx="1602.0" cy="88.7" r="4.9"/>
<circle cx="1006.3" cy="777.7" r="4.9"/>
<circle cx="1026.0" cy="768.7" r="4.9"/>
<circle cx="1045.7" cy="759.7" r="4.9"/>
<circle cx="1065.4" cy="750.7" r="4.9"/>
<circle cx="1085.1" cy="741.7" r="4.9"/>
<circle cx="1104.7" cy="732.7" r="4.9"/>
<circle cx="1124.4" cy="723.8" r="4.9"/>
<circle cx="1144.1" cy="714.8" r="4.9"/>
<circle cx="1163.8" cy="705.8" r="4.9"/>
<circle cx="1183.5" cy="696.8" r="4.9"/>
<circle cx="1203.2" cy="687.8" r="4.9"/>
<circle cx="1222.9" cy="678.8" r="4.9"/>
<circle cx="1242.6" cy="669.8" r="4.9"/>
<circle cx="1262.2" cy="660.8" r="4.9"/>
<circle cx="1281.9" cy="651.8" r="4.9"/>
<circle cx="1301.6" cy="642.8" r="4.9"/>
<circle cx="1321.3" cy="633.8" r="4.9"/>
<circle cx="1341.0" cy="624.9" r="4.9"/>
<circle cx="1360.7" cy="615.9" r="4.9"/>
<circle cx="1380.4" cy="606.9" r="4.9"/>
<circle cx="1400.1" cy="597.9" r="4.9"/>
<circle cx="1419.7" cy="588.9" r="4.9"/>
<circle cx="1439.4" cy="579.9" r="4.9"/>
<circle cx="1459.1" cy="570.9" r="4.9"/>
<circle cx="1478.8" cy="561.9" r="4.9"/>
<circle cx="1498.5" cy="552.9" r="4.9"/>
<circle cx="1518.2" cy="543.9" r="4.9"/>
<circle cx="1537.9" cy="534.9" r="4.9"/>
<circle cx="1557.6" cy="526.0" r="4.9"/>
<circle cx="1577.2" cy="517.0" r="4.9"/>
<circle cx="1596.9" cy="508.0" r="4.9"/>
<circle cx="1616.6" cy="499.0" r="4.9"/>
<circle cx="1636.3" cy="490.0" r="4.9"/>
<circle cx="1656.0" cy="481.0" r="4.9"/>
<circle cx="1117.3" cy="1133.6" r="4.9"/>
<circle cx="1137.0" cy="1128.0" r="4.9"/>
<circle cx="1156.8" cy="1122.3" r="4.9"/>
<circle cx="1176.5" cy="1116.7" r="4.9"/>
<circle cx="1196.2" cy="1111.1" r="4.9"/>
<circle cx="1215.9" cy="1105.4" r="4.9"/>
<circle cx="1235.7" cy="1099.8" r="4.9"/>
<circle cx="1255.4" cy="1094.1" r="4.9"/>
<circle cx="1275.1" cy="1088.5" r="4.9"/>
<circle cx="1294.8" cy="1082.9" r="4.9"/>
<circle cx="1314.6" cy="1077.2" r="4.9"/>
<circle cx="1334.3" cy="1071.6" r="4.9"/>
<circle cx="1354.0" cy="1066.0" r="4.9"/>
<circle cx="1373.7" cy="1060.3" r="4.9"/>
<circle cx="1393.5" cy="1054.7" r="4.9"/>
<circle cx="1413.2" cy="1049.0" r="4.9"/>
<circle cx="1432.9" cy="1043.4" r="4.9"/>
<circle cx="1452.6" cy="1037.8" r="4.9"/>
<circle cx="1472.4" cy="1032.1" r="4.9"/>
<circle cx="1492.1" cy="1026.5" r="4.9"/>
<circle cx="1511.8" cy="1020.9" r="4.9"/>
<circle cx="1531.5" cy="1015.2" r="4.9"/>
<circle cx="1551.3" cy="1009.6" r="4.9"/>
<circle cx="1571.0" cy="1003.9" r="4.9"/>
<circle cx="1590.7" cy="998.3" r="4.9"/>
<circle cx="1610.4" cy="992.7" r="4.9"/>
<circle cx="1630.2" cy="987.0" r="4.9"/>
<circle cx="1649.9" cy="981.4" r="4.9"/>
</g>
<line x1="298.5" y1="427.0" x2="1663.5" y2="427.0" stroke="#000" stroke-width="10.8"/>
<line x1="298.5" y1="781.7" x2="1663.5" y2="781.7" stroke="#000" stroke-width="10.8"/>
<rect x="298.5" y="72.5" width="1365.0" height="1064.0" fill="none" stroke="#000" stroke-width="11" stroke-linejoin="round"/>
<rect x="322" y="88" width="498.5" height="250" fill="#fdfdfd" stroke="#000" stroke-width="10" stroke-linejoin="round"/>
<line x1="374.5" y1="141.1" x2="525.5" y2="141.1" stroke="#ff2027" stroke-width="11" stroke-linecap="round"/>
<line x1="374.5" y1="214.9" x2="525.5" y2="214.9" stroke="#3300ff" stroke-width="11" stroke-linecap="round"/>
<line x1="374.5" y1="292.9" x2="525.5" y2="292.9" stroke="#00800f" stroke-width="11" stroke-linecap="round"/>
<text x="544.95" y="163.80" font-size="70.50" font-weight="normal" font-style="normal" textLength="244.70" lengthAdjust="spacingAndGlyphs" fill="#000" >0.033 M</text>
<text x="544.95" y="237.40" font-size="70.50" font-weight="normal" font-style="normal" textLength="244.70" lengthAdjust="spacingAndGlyphs" fill="#000" >0.030 M</text>
<text x="544.95" y="317.50" font-size="70.50" font-weight="normal" font-style="normal" textLength="244.70" lengthAdjust="spacingAndGlyphs" fill="#000" >0.020 M</text>
<text x="298.50" y="1205.80" font-size="80.00" font-weight="normal" font-style="normal" text-anchor="middle" textLength="108.10" lengthAdjust="spacingAndGlyphs" fill="#000">1.5</text>
<text x="493.50" y="1205.80" font-size="80.00" font-weight="normal" font-style="normal" text-anchor="middle" textLength="108.10" lengthAdjust="spacingAndGlyphs" fill="#000">2.0</text>
<text x="688.50" y="1205.80" font-size="80.00" font-weight="normal" font-style="normal" text-anchor="middle" textLength="108.10" lengthAdjust="spacingAndGlyphs" fill="#000">2.5</text>
<text x="883.50" y="1205.80" font-size="80.00" font-weight="normal" font-style="normal" text-anchor="middle" textLength="108.10" lengthAdjust="spacingAndGlyphs" fill="#000">3.0</text>
<text x="1078.50" y="1205.80" font-size="80.00" font-weight="normal" font-style="normal" text-anchor="middle" textLength="108.10" lengthAdjust="spacingAndGlyphs" fill="#000">3.5</text>
<text x="1273.50" y="1205.80" font-size="80.00" font-weight="normal" font-style="normal" text-anchor="middle" textLength="108.10" lengthAdjust="spacingAndGlyphs" fill="#000">4.0</text>
<text x="1468.50" y="1205.80" font-size="80.00" font-weight="normal" font-style="normal" text-anchor="middle" textLength="108.10" lengthAdjust="spacingAndGlyphs" fill="#000">4.5</text>
<text x="1663.50" y="1205.80" font-size="80.00" font-weight="normal" font-style="normal" text-anchor="middle" textLength="108.10" lengthAdjust="spacingAndGlyphs" fill="#000">5.0</text>
<text x="850.90" y="1338.00" font-size="103.00" font-weight="normal" font-style="normal" textLength="273.08" lengthAdjust="spacingAndGlyphs" fill="#000" >E (eV)</text>
<text x="46.84" y="99.50" font-size="84.00" font-weight="bold" font-style="normal" textLength="92.22" lengthAdjust="spacingAndGlyphs" fill="#000" >(c)</text>
<text style="font-family:&quot;Liberation Serif&quot;,sans-serif" transform="translate(236.00,375.50) rotate(-90)" x="-3.99" y="0" font-size="89.20" font-weight="normal" font-style="normal" textLength="30.21" lengthAdjust="spacingAndGlyphs" fill="#000">(</text>
<text style="font-family:&quot;DejaVu Sans&quot;,sans-serif" transform="translate(236.00,346.40) rotate(-90)" x="-3.71" y="0" font-size="73.00" font-weight="normal" font-style="italic" textLength="54.28" lengthAdjust="spacingAndGlyphs" fill="#000">α</text>
<text transform="translate(236.00,291.00) rotate(-90)" x="-1.58" y="0" font-size="97.00" font-weight="normal" font-style="italic" textLength="52.95" lengthAdjust="spacingAndGlyphs" fill="#000">h</text>
<text transform="translate(236.00,232.00) rotate(-90)" x="-4.99" y="0" font-size="97.00" font-weight="normal" font-style="italic" textLength="45.62" lengthAdjust="spacingAndGlyphs" fill="#000">v</text>
<text style="font-family:&quot;Liberation Serif&quot;,sans-serif" transform="translate(236.00,195.20) rotate(-90)" x="4.24" y="0" font-size="100.90" font-weight="normal" font-style="italic" textLength="29.81" lengthAdjust="spacingAndGlyphs" fill="#000">)</text>
<text transform="translate(183.90,155.70) rotate(-90)" x="-2.50" y="0" font-size="61.00" font-weight="normal" font-style="italic" textLength="80.06" lengthAdjust="spacingAndGlyphs" fill="#000">0.5</text>
<text style="font-family:&quot;Liberation Serif&quot;,sans-serif" transform="translate(236.00,732.00) rotate(-90)" x="-3.99" y="0" font-size="89.20" font-weight="normal" font-style="normal" textLength="30.21" lengthAdjust="spacingAndGlyphs" fill="#000">(</text>
<text style="font-family:&quot;DejaVu Sans&quot;,sans-serif" transform="translate(236.00,702.90) rotate(-90)" x="-3.71" y="0" font-size="73.00" font-weight="normal" font-style="italic" textLength="54.28" lengthAdjust="spacingAndGlyphs" fill="#000">α</text>
<text transform="translate(236.00,647.50) rotate(-90)" x="-1.58" y="0" font-size="97.00" font-weight="normal" font-style="italic" textLength="52.95" lengthAdjust="spacingAndGlyphs" fill="#000">h</text>
<text transform="translate(236.00,588.50) rotate(-90)" x="-4.99" y="0" font-size="97.00" font-weight="normal" font-style="italic" textLength="45.62" lengthAdjust="spacingAndGlyphs" fill="#000">v</text>
<text style="font-family:&quot;Liberation Serif&quot;,sans-serif" transform="translate(236.00,551.70) rotate(-90)" x="4.24" y="0" font-size="100.90" font-weight="normal" font-style="italic" textLength="29.81" lengthAdjust="spacingAndGlyphs" fill="#000">)</text>
<text transform="translate(183.90,512.20) rotate(-90)" x="-2.50" y="0" font-size="61.00" font-weight="normal" font-style="italic" textLength="80.06" lengthAdjust="spacingAndGlyphs" fill="#000">0.5</text>
<text style="font-family:&quot;Liberation Serif&quot;,sans-serif" transform="translate(236.00,1086.00) rotate(-90)" x="-3.99" y="0" font-size="89.20" font-weight="normal" font-style="normal" textLength="30.21" lengthAdjust="spacingAndGlyphs" fill="#000">(</text>
<text style="font-family:&quot;DejaVu Sans&quot;,sans-serif" transform="translate(236.00,1056.90) rotate(-90)" x="-3.71" y="0" font-size="73.00" font-weight="normal" font-style="italic" textLength="54.28" lengthAdjust="spacingAndGlyphs" fill="#000">α</text>
<text transform="translate(236.00,1001.50) rotate(-90)" x="-1.58" y="0" font-size="97.00" font-weight="normal" font-style="italic" textLength="52.95" lengthAdjust="spacingAndGlyphs" fill="#000">h</text>
<text transform="translate(236.00,942.50) rotate(-90)" x="-4.99" y="0" font-size="97.00" font-weight="normal" font-style="italic" textLength="45.62" lengthAdjust="spacingAndGlyphs" fill="#000">v</text>
<text style="font-family:&quot;Liberation Serif&quot;,sans-serif" transform="translate(236.00,905.70) rotate(-90)" x="4.24" y="0" font-size="100.90" font-weight="normal" font-style="italic" textLength="29.81" lengthAdjust="spacingAndGlyphs" fill="#000">)</text>
<text transform="translate(183.90,866.20) rotate(-90)" x="-2.50" y="0" font-size="61.00" font-weight="normal" font-style="italic" textLength="80.06" lengthAdjust="spacingAndGlyphs" fill="#000">0.5</text>
<line x1="302.7" y1="1644.3" x2="1670.3" y2="1644.3" stroke="#000" stroke-width="3" stroke-dasharray="5 3.2" fill="none"/>
<line x1="302.7" y1="1857.6" x2="1670.3" y2="1857.6" stroke="#000" stroke-width="3" stroke-dasharray="5 3.2" fill="none"/>
<line x1="302.7" y1="2070.9" x2="1670.3" y2="2070.9" stroke="#000" stroke-width="3" stroke-dasharray="5 3.2" fill="none"/>
<line x1="302.7" y1="2284.2" x2="1670.3" y2="2284.2" stroke="#000" stroke-width="3" stroke-dasharray="5 3.2" fill="none"/>
<line x1="644.6" y1="1431.0" x2="644.6" y2="2497.5" stroke="#000" stroke-width="3" stroke-dasharray="5 3.2" fill="none"/>
<line x1="986.5" y1="1431.0" x2="986.5" y2="2497.5" stroke="#000" stroke-width="3" stroke-dasharray="5 3.2" fill="none"/>
<line x1="1328.4" y1="1431.0" x2="1328.4" y2="2497.5" stroke="#000" stroke-width="3" stroke-dasharray="5 3.2" fill="none"/>
<rect x="482" y="1940" width="1022" height="90" fill="#fbfbfb"/>
<text x="490.52" y="2011.50" font-size="82.00" font-weight="normal" font-style="normal" textLength="1002.75" lengthAdjust="spacingAndGlyphs" fill="#000" >Quantum Confinement Effect</text>
<line x1="302.7" y1="2444.9" x2="1670.3" y2="2444.9" stroke="#007d1c" stroke-width="8"/>
<clipPath id="cpd"><rect x="302" y="1431" width="1369" height="1067"/></clipPath>
<line x1="425.8" y1="2005" x2="425.8" y2="2390" stroke="#000" stroke-width="10"/>
<path d="M393.5,2013.4 L458,2013.4 L425.9,1950.2 Z" fill="#000" stroke="#000" stroke-width="3" stroke-linejoin="round"/>
<path d="M393.4,2380.9 L457.8,2380.9 L426.5,2443 Z" fill="#000" stroke="#000" stroke-width="3" stroke-linejoin="round"/>
<rect x="598.7" y="2163.0" width="36" height="36" fill="none" stroke="#2400c0" stroke-width="6.5"/>
<rect x="844.3" y="2326.0" width="36" height="36" fill="none" stroke="#2400c0" stroke-width="6.5"/><rect x="858.3" y="2341.3" width="8" height="5.5" fill="#2400c0"/>
<rect x="885.5" y="2343.8" width="36" height="36" fill="none" stroke="#2400c0" stroke-width="6.5"/><rect x="899.5" y="2359.1" width="8" height="5.5" fill="#2400c0"/>
<path d="M302.4,1436.4 L302.6,1437.7 L302.7,1439.1 L302.8,1440.5 L303.0,1441.8 L303.1,1443.2 L303.3,1444.5 L303.4,1445.9 L303.5,1447.3 L303.7,1448.6 L303.8,1450.0 L304.0,1451.4 L304.1,1452.7 L304.3,1454.1 L304.4,1455.4 L304.6,1456.8 L304.7,1458.2 L304.9,1459.5 L305.0,1460.9 L305.2,1462.2 L305.3,1463.6 L305.5,1465.0 L305.6,1466.3 L305.8,1467.7 L306.0,1469.1 L306.1,1470.4 L306.3,1471.8 L306.4,1473.1 L306.6,1474.5 L306.8,1475.9 L306.9,1477.2 L307.1,1478.6 L307.3,1479.9 L307.4,1481.3 L307.6,1482.7 L307.8,1484.0 L307.9,1485.4 L308.1,1486.8 L308.3,1488.1 L308.4,1489.5 L308.6,1490.8 L308.8,1492.2 L309.0,1493.6 L309.1,1494.9 L309.3,1496.3 L309.5,1497.6 L309.7,1499.0 L309.9,1500.4 L310.0,1501.7 L310.2,1503.1 L310.4,1504.4 L310.6,1505.8 L310.8,1507.2 L311.0,1508.5 L311.1,1509.9 L311.3,1511.2 L311.5,1512.6 L311.7,1513.9 L311.9,1515.3 L312.1,1516.7 L312.3,1518.0 L312.5,1519.4 L312.7,1520.7 L312.9,1522.1 L313.1,1523.5 L313.3,1524.8 L313.5,1526.2 L313.7,1527.5 L313.9,1528.9 L314.1,1530.2 L314.3,1531.6 L314.5,1533.0 L314.7,1534.3 L314.9,1535.7 L315.1,1537.0 L315.3,1538.4 L315.5,1539.7 L315.7,1541.1 L315.9,1542.5 L316.1,1543.8 L316.4,1545.2 L316.6,1546.5 L316.8,1547.9 L317.0,1549.2 L317.2,1550.6 L317.4,1552.0 L317.6,1553.3 L317.9,1554.7 L318.1,1556.0 L318.3,1557.4 L318.5,1558.7 L318.8,1560.1 L319.0,1561.4 L319.2,1562.8 L319.4,1564.2 L319.7,1565.5 L319.9,1566.9 L320.1,1568.2 L320.4,1569.6 L320.6,1570.9 L320.8,1572.3 L321.1,1573.6 L321.3,1575.0 L321.5,1576.3 L321.8,1577.7 L322.0,1579.0 L322.2,1580.4 L322.5,1581.7 L322.7,1583.1 L323.0,1584.5 L323.2,1585.8 L323.5,1587.2 L323.7,1588.5 L324.0,1589.9 L324.2,1591.2 L324.5,1592.6 L324.7,1593.9 L325.0,1595.3 L325.2,1596.6 L325.5,1598.0 L325.7,1599.3 L326.0,1600.7 L326.2,1602.0 L326.5,1603.4 L326.8,1604.7 L327.0,1606.1 L327.3,1607.4 L327.5,1608.8 L327.8,1610.1 L328.1,1611.5 L328.3,1612.8 L328.6,1614.2 L328.9,1615.5 L329.1,1616.9 L329.4,1618.2 L329.7,1619.6 L329.9,1620.9 L330.2,1622.3 L330.5,1623.6 L330.8,1624.9 L331.0,1626.3 L331.3,1627.6 L331.6,1629.0 L331.9,1630.3 L332.2,1631.7 L332.4,1633.0 L332.7,1634.4 L333.0,1635.7 L333.3,1637.1 L333.6,1638.4 L333.9,1639.8 L334.2,1641.1 L334.5,1642.4 L334.7,1643.8 L335.0,1645.1 L335.3,1646.5 L335.6,1647.8 L335.9,1649.2 L336.2,1650.5 L336.5,1651.8 L336.8,1653.2 L337.1,1654.5 L337.4,1655.9 L337.7,1657.2 L338.0,1658.6 L338.3,1659.9 L338.6,1661.2 L338.9,1662.6 L339.3,1663.9 L339.6,1665.3 L339.9,1666.6 L340.2,1667.9 L340.5,1669.3 L340.8,1670.6 L341.1,1672.0 L341.4,1673.3 L341.8,1674.6 L342.1,1676.0 L342.4,1677.3 L342.7,1678.7 L343.1,1680.0 L343.4,1681.3 L343.7,1682.7 L344.0,1684.0 L344.4,1685.3 L344.7,1686.7 L345.0,1688.0 L345.3,1689.4 L345.7,1690.7 L346.0,1692.0 L346.3,1693.4 L346.7,1694.7 L347.0,1696.0 L347.3,1697.4 L347.7,1698.7 L348.0,1700.0 L348.4,1701.4 L348.7,1702.7 L349.1,1704.0 L349.4,1705.4 L349.7,1706.7 L350.1,1708.0 L350.4,1709.4 L350.8,1710.7 L351.1,1712.0 L351.5,1713.4 L351.8,1714.7 L352.2,1716.0 L352.6,1717.4 L352.9,1718.7 L353.3,1720.0 L353.6,1721.4 L354.0,1722.7 L354.4,1724.0 L354.7,1725.3 L355.1,1726.7 L355.4,1728.0 L355.8,1729.3 L356.2,1730.7 L356.6,1732.0 L356.9,1733.3 L357.3,1734.6 L357.7,1736.0 L358.0,1737.3 L358.4,1738.6 L358.8,1739.9 L359.2,1741.3 L359.6,1742.6 L359.9,1743.9 L360.3,1745.2 L360.7,1746.6 L361.1,1747.9 L361.5,1749.2 L361.9,1750.5 L362.2,1751.9 L362.6,1753.2 L363.0,1754.5 L363.4,1755.8 L363.8,1757.2 L364.2,1758.5 L364.6,1759.8 L365.0,1761.1 L365.4,1762.4 L365.8,1763.8 L366.2,1765.1 L366.6,1766.4 L367.0,1767.7 L367.4,1769.0 L367.8,1770.4 L368.2,1771.7 L368.6,1773.0 L369.0,1774.3 L369.4,1775.6 L369.8,1776.9 L370.3,1778.3 L370.7,1779.6 L371.1,1780.9 L371.5,1782.2 L371.9,1783.5 L372.3,1784.8 L372.8,1786.2 L373.2,1787.5 L373.6,1788.8 L374.0,1790.1 L374.5,1791.4 L374.9,1792.7 L375.3,1794.0 L375.7,1795.4 L376.2,1796.7 L376.6,1798.0 L377.0,1799.3 L377.5,1800.6 L377.9,1801.9 L378.4,1803.2 L378.8,1804.5 L379.2,1805.8 L379.7,1807.2 L380.1,1808.5 L380.6,1809.8 L381.0,1811.1 L381.5,1812.4 L381.9,1813.7 L382.3,1815.0 L382.8,1816.3 L383.3,1817.6 L383.7,1818.9 L384.2,1820.2 L384.6,1821.5 L385.1,1822.8 L385.5,1824.1 L386.0,1825.4 L386.5,1826.7 L386.9,1828.1 L387.4,1829.4 L387.8,1830.7 L388.3,1832.0 L388.8,1833.3 L389.2,1834.6 L389.7,1835.9 L390.2,1837.2 L390.7,1838.5 L391.1,1839.8 L391.6,1841.1 L392.1,1842.4 L392.6,1843.7 L393.1,1845.0 L393.5,1846.3 L394.0,1847.6 L394.5,1848.9 L395.0,1850.2 L395.5,1851.4 L396.0,1852.7 L396.5,1854.0 L396.9,1855.3 L397.4,1856.6 L397.9,1857.9 L398.4,1859.2 L398.9,1860.5 L399.4,1861.8 L399.9,1863.1 L400.4,1864.4 L400.9,1865.7 L401.4,1867.0 L401.9,1868.2 L402.4,1869.5 L403.0,1870.8 L403.5,1872.1 L404.0,1873.4 L404.5,1874.7 L405.0,1876.0 L405.5,1877.3 L406.0,1878.5 L406.6,1879.8 L407.1,1881.1 L407.6,1882.4 L408.1,1883.7 L408.7,1885.0 L409.2,1886.2 L409.7,1887.5 L410.2,1888.8 L410.8,1890.1 L411.3,1891.3 L411.8,1892.6 L412.4,1893.9 L412.9,1895.2 L413.5,1896.5 L414.0,1897.7 L414.5,1899.0 L415.1,1900.3 L415.6,1901.5 L416.2,1902.8 L416.7,1904.1 L417.3,1905.4 L417.8,1906.6 L418.4,1907.9 L418.9,1909.2 L419.5,1910.4 L420.1,1911.7 L420.6,1913.0 L421.2,1914.2 L421.7,1915.5 L422.3,1916.7 L422.9,1918.0 L423.4,1919.3 L424.0,1920.5 L424.6,1921.8 L425.2,1923.0 L425.7,1924.3 L426.3,1925.6 L426.9,1926.8 L427.5,1928.1 L428.1,1929.3 L428.6,1930.6 L429.2,1931.8 L429.8,1933.1 L430.4,1934.3 L431.0,1935.6 L431.6,1936.8 L432.2,1938.1 L432.8,1939.3 L433.4,1940.6 L434.0,1941.8 L434.6,1943.1 L435.2,1944.3 L435.8,1945.5 L436.4,1946.8 L437.0,1948.0 L437.6,1949.3 L438.2,1950.5 L438.9,1951.7 L439.5,1953.0 L440.1,1954.2 L440.7,1955.4 L441.3,1956.7 L442.0,1957.9 L442.6,1959.1 L443.2,1960.4 L443.8,1961.6 L444.5,1962.8 L445.1,1964.0 L445.7,1965.3 L446.4,1966.5 L447.0,1967.7 L447.6,1968.9 L448.3,1970.1 L448.9,1971.4 L449.6,1972.6 L450.2,1973.8 L450.9,1975.0 L451.5,1976.2 L452.2,1977.4 L452.8,1978.6 L453.5,1979.9 L454.2,1981.1 L454.8,1982.3 L455.5,1983.5 L456.1,1984.7 L456.8,1985.9 L457.5,1987.1 L458.2,1988.3 L458.8,1989.5 L459.5,1990.7 L460.2,1991.9 L460.9,1993.1 L461.5,1994.3 L462.2,1995.5 L462.9,1996.7 L463.6,1997.9 L464.3,1999.1 L465.0,2000.3 L465.7,2001.4 L466.4,2002.6 L467.1,2003.8 L467.8,2005.0 L468.5,2006.2 L469.2,2007.4 L469.9,2008.5 L470.6,2009.7 L471.3,2010.9 L472.0,2012.1 L472.7,2013.3 L473.4,2014.4 L474.1,2015.6 L474.9,2016.8 L475.6,2017.9 L476.3,2019.1 L477.0,2020.3 L477.8,2021.4 L478.5,2022.6 L479.2,2023.8 L479.9,2024.9 L480.7,2026.1 L481.4,2027.2 L482.2,2028.4 L482.9,2029.5 L483.7,2030.7 L484.4,2031.9 L485.1,2033.0 L485.9,2034.2 L486.7,2035.3 L487.4,2036.4 L488.2,2037.6 L488.9,2038.7 L489.7,2039.9 L490.4,2041.0 L491.2,2042.2 L492.0,2043.3 L492.8,2044.4 L493.5,2045.6 L494.3,2046.7 L495.1,2047.8 L495.9,2048.9 L496.6,2050.1 L497.4,2051.2 L498.2,2052.3 L499.0,2053.4 L499.8,2054.6 L500.6,2055.7 L501.4,2056.8 L502.2,2057.9 L503.0,2059.0 L503.8,2060.1 L504.6,2061.3 L505.4,2062.4 L506.2,2063.5 L507.0,2064.6 L507.8,2065.7 L508.6,2066.8 L509.5,2067.9 L510.3,2069.0 L511.1,2070.1 L511.9,2071.2 L512.8,2072.3 L513.6,2073.4 L514.4,2074.4 L515.2,2075.5 L516.1,2076.6 L516.9,2077.7 L517.8,2078.8 L518.6,2079.9 L519.5,2080.9 L520.3,2082.0 L521.2,2083.1 L522.0,2084.2 L522.9,2085.2 L523.7,2086.3 L524.6,2087.4 L525.4,2088.5 L526.3,2089.5 L527.2,2090.6 L528.0,2091.6 L528.9,2092.7 L529.8,2093.8 L530.7,2094.8 L531.5,2095.9 L532.4,2096.9 L533.3,2098.0 L534.2,2099.0 L535.1,2100.1 L536.0,2101.1 L536.8,2102.2 L537.7,2103.2 L538.6,2104.2 L539.5,2105.3 L540.4,2106.3 L541.3,2107.3 L542.2,2108.4 L543.1,2109.4 L544.1,2110.4 L545.0,2111.5 L545.9,2112.5 L546.8,2113.5 L547.7,2114.5 L548.6,2115.5 L549.5,2116.6 L550.5,2117.6 L551.4,2118.6 L552.3,2119.6 L553.3,2120.6 L554.2,2121.6 L555.1,2122.6 L556.1,2123.6 L557.0,2124.6 L557.9,2125.6 L558.9,2126.6 L559.8,2127.6 L560.8,2128.6 L561.7,2129.6 L562.7,2130.6 L563.6,2131.6 L564.6,2132.6 L565.5,2133.6 L566.5,2134.5 L567.5,2135.5 L568.4,2136.5 L569.4,2137.5 L570.4,2138.4 L571.3,2139.4 L572.3,2140.4 L573.3,2141.3 L574.2,2142.3 L575.2,2143.3 L576.2,2144.2 L577.2,2145.2 L578.2,2146.2 L579.2,2147.1 L580.1,2148.1 L581.1,2149.0 L582.1,2150.0 L583.1,2150.9 L584.1,2151.9 L585.1,2152.8 L586.1,2153.7 L587.1,2154.7 L588.1,2155.6 L589.1,2156.6 L590.1,2157.5 L591.1,2158.4 L592.1,2159.4 L593.2,2160.3 L594.2,2161.2 L595.2,2162.1 L596.2,2163.1 L597.2,2164.0 L598.3,2164.9 L599.3,2165.8 L600.3,2166.7 L601.3,2167.6 L602.4,2168.5 L603.4,2169.4 L604.4,2170.3 L605.5,2171.2 L606.5,2172.1 L607.5,2173.0 L608.6,2173.9 L609.6,2174.8 L610.7,2175.7 L611.7,2176.6 L612.8,2177.5 L613.8,2178.4 L614.9,2179.3 L615.9,2180.2 L617.0,2181.0 L618.0,2181.9 L619.1,2182.8 L620.2,2183.7 L621.2,2184.5 L622.3,2185.4 L623.4,2186.3 L624.4,2187.1 L625.5,2188.0 L626.6,2188.8 L627.6,2189.7 L628.7,2190.6 L629.8,2191.4 L630.9,2192.3 L632.0,2193.1 L633.0,2194.0 L634.1,2194.8 L635.2,2195.6 L636.3,2196.5 L637.4,2197.3 L638.5,2198.1 L639.6,2199.0 L640.7,2199.8 L641.8,2200.6 L642.9,2201.5 L644.0,2202.3 L645.1,2203.1 L646.2,2203.9 L647.3,2204.7 L648.4,2205.6 L649.5,2206.4 L650.6,2207.2 L651.7,2208.0 L652.8,2208.8 L653.9,2209.6 L655.1,2210.4 L656.2,2211.2 L657.3,2212.0 L658.4,2212.8 L659.5,2213.6 L660.7,2214.4 L661.8,2215.2 L662.9,2215.9 L664.1,2216.7 L665.2,2217.5 L666.3,2218.3 L667.5,2219.1 L668.6,2219.8 L669.7,2220.6 L670.9,2221.4 L672.0,2222.1 L673.2,2222.9 L674.3,2223.7 L675.4,2224.4 L676.6,2225.2 L677.7,2225.9 L678.9,2226.7 L680.0,2227.4 L681.2,2228.2 L682.4,2228.9 L683.5,2229.7 L684.7,2230.4 L685.8,2231.2 L687.0,2231.9 L688.2,2232.6 L689.3,2233.4 L690.5,2234.1 L691.6,2234.8 L692.8,2235.5 L694.0,2236.3 L695.2,2237.0 L696.3,2237.7 L697.5,2238.4 L698.7,2239.1 L699.9,2239.8 L701.0,2240.5 L702.2,2241.2 L703.4,2241.9 L704.6,2242.6 L705.8,2243.3 L707.0,2244.0 L708.1,2244.7 L709.3,2245.4 L710.5,2246.1 L711.7,2246.8 L712.9,2247.5 L714.1,2248.1 L715.3,2248.8 L716.5,2249.5 L717.7,2250.2 L718.9,2250.8 L720.1,2251.5 L721.3,2252.2 L722.5,2252.8 L723.7,2253.5 L724.9,2254.2 L726.1,2254.8 L727.3,2255.5 L728.6,2256.1 L729.8,2256.8 L731.0,2257.4 L732.2,2258.0 L733.4,2258.7 L734.6,2259.3 L735.8,2260.0 L737.1,2260.6 L738.3,2261.2 L739.5,2261.9 L740.7,2262.5 L742.0,2263.1 L743.2,2263.7 L744.4,2264.3 L745.6,2265.0 L746.9,2265.6 L748.1,2266.2 L749.3,2266.8 L750.6,2267.4 L751.8,2268.0 L753.1,2268.6 L754.3,2269.2 L755.5,2269.8 L756.8,2270.4 L758.0,2271.0 L759.3,2271.6 L760.5,2272.2 L761.7,2272.8 L763.0,2273.4 L764.2,2273.9 L765.5,2274.5 L766.7,2275.1 L768.0,2275.7 L769.2,2276.3 L770.5,2276.8 L771.7,2277.4 L773.0,2278.0 L774.2,2278.5 L775.5,2279.1 L776.8,2279.7 L778.0,2280.2 L779.3,2280.8 L780.5,2281.3 L781.8,2281.9 L783.1,2282.4 L784.3,2283.0 L785.6,2283.5 L786.9,2284.1 L788.1,2284.6 L789.4,2285.1 L790.7,2285.7 L791.9,2286.2 L793.2,2286.8 L794.5,2287.3 L795.8,2287.8 L797.0,2288.3 L798.3,2288.9 L799.6,2289.4 L800.9,2289.9 L802.1,2290.4 L803.4,2290.9 L804.7,2291.5 L806.0,2292.0 L807.3,2292.5 L808.5,2293.0 L809.8,2293.5 L811.1,2294.0 L812.4,2294.5 L813.7,2295.0 L815.0,2295.5 L816.2,2296.0 L817.5,2296.5 L818.8,2297.0 L820.1,2297.5 L821.4,2298.0 L822.7,2298.5 L824.0,2299.0 L825.3,2299.4 L826.6,2299.9 L827.9,2300.4 L829.2,2300.9 L830.5,2301.4 L831.8,2301.8 L833.1,2302.3 L834.4,2302.8 L835.7,2303.2 L837.0,2303.7 L838.3,2304.2 L839.6,2304.6 L840.9,2305.1 L842.2,2305.6 L843.5,2306.0 L844.8,2306.5 L846.1,2306.9 L847.4,2307.4 L848.7,2307.8 L850.0,2308.3 L851.3,2308.7 L852.6,2309.2 L853.9,2309.6 L855.2,2310.1 L856.5,2310.5 L857.9,2310.9 L859.2,2311.4 L860.5,2311.8 L861.8,2312.2 L863.1,2312.7 L864.4,2313.1 L865.7,2313.5 L867.0,2314.0 L868.4,2314.4 L869.7,2314.8 L871.0,2315.2 L872.3,2315.6 L873.6,2316.1 L874.9,2316.5 L876.3,2316.9 L877.6,2317.3 L878.9,2317.7 L880.0,2318.1 L886.0,2319.9 L892.0,2321.7 L898.0,2323.5 L904.0,2325.2 L910.0,2326.9 L916.0,2328.6 L922.0,2330.2 L928.0,2331.8 L934.0,2333.3 L940.0,2334.8 L946.0,2336.3 L952.0,2337.8 L958.0,2339.2 L964.0,2340.6 L970.0,2341.9 L976.0,2343.3 L982.0,2344.6 L988.0,2345.8 L994.0,2347.1 L1000.0,2348.3 L1006.0,2349.5 L1012.0,2350.7 L1018.0,2351.8 L1024.0,2352.9 L1030.0,2354.0 L1036.0,2355.1 L1042.0,2356.2 L1048.0,2357.2 L1054.0,2358.2 L1060.0,2359.2 L1066.0,2360.2 L1072.0,2361.2 L1078.0,2362.1 L1084.0,2363.1 L1090.0,2364.1 L1096.0,2365.0 L1102.0,2366.0 L1108.0,2366.9 L1114.0,2367.8 L1120.0,2368.7 L1126.0,2369.6 L1132.0,2370.4 L1138.0,2371.3 L1144.0,2372.1 L1150.0,2373.0 L1156.0,2373.8 L1162.0,2374.6 L1168.0,2375.4 L1174.0,2376.2 L1180.0,2376.9 L1186.0,2377.7 L1192.0,2378.5 L1198.0,2379.2 L1204.0,2379.9 L1210.0,2380.6 L1216.0,2381.3 L1222.0,2382.0 L1228.0,2382.7 L1234.0,2383.4 L1240.0,2384.1 L1246.0,2384.8 L1252.0,2385.4 L1258.0,2386.1 L1264.0,2386.7 L1270.0,2387.3 L1276.0,2387.9 L1282.0,2388.5 L1288.0,2389.1 L1294.0,2389.7 L1300.0,2390.3 L1306.0,2390.9 L1312.0,2391.5 L1318.0,2392.0 L1324.0,2392.6 L1330.0,2393.2 L1336.0,2393.7 L1342.0,2394.2 L1348.0,2394.8 L1354.0,2395.3 L1360.0,2395.8 L1366.0,2396.3 L1372.0,2396.8 L1378.0,2397.3 L1384.0,2397.8 L1390.0,2398.3 L1396.0,2398.8 L1402.0,2399.3 L1408.0,2399.7 L1414.0,2400.2 L1420.0,2400.6 L1426.0,2401.1 L1432.0,2401.6 L1438.0,2402.0 L1444.0,2402.4 L1450.0,2402.9 L1456.0,2403.3 L1462.0,2403.7 L1468.0,2404.1 L1474.0,2404.5 L1480.0,2405.0 L1486.0,2405.4 L1492.0,2405.8 L1498.0,2406.2 L1504.0,2406.5 L1510.0,2406.9 L1516.0,2407.3 L1522.0,2407.7 L1528.0,2408.1 L1534.0,2408.4 L1540.0,2408.8 L1546.0,2409.2 L1552.0,2409.5 L1558.0,2409.9 L1564.0,2410.2 L1570.0,2410.6 L1576.0,2410.9 L1582.0,2411.3 L1588.0,2411.6 L1594.0,2411.9 L1600.0,2412.3 L1606.0,2412.6 L1612.0,2412.9 L1618.0,2413.2 L1624.0,2413.5 L1630.0,2413.8 L1636.0,2414.2 L1642.0,2414.5 L1648.0,2414.8 L1654.0,2415.1 L1660.0,2415.4 L1666.0,2415.7 L1672.0,2416.0" stroke="#ff1f24" stroke-width="10" fill="none" stroke-linejoin="round" stroke-linecap="round" clip-path="url(#cpd)"/>
<line x1="644.6" y1="2497.5" x2="644.6" y2="2474.5" stroke="#000" stroke-width="9"/>
<line x1="986.5" y1="2497.5" x2="986.5" y2="2474.5" stroke="#000" stroke-width="9"/>
<line x1="1328.4" y1="2497.5" x2="1328.4" y2="2474.5" stroke="#000" stroke-width="9"/>
<line x1="473.6" y1="2497.5" x2="473.6" y2="2484.5" stroke="#000" stroke-width="9"/>
<line x1="815.5" y1="2497.5" x2="815.5" y2="2484.5" stroke="#000" stroke-width="9"/>
<line x1="1157.5" y1="2497.5" x2="1157.5" y2="2484.5" stroke="#000" stroke-width="9"/>
<line x1="1499.3" y1="2497.5" x2="1499.3" y2="2484.5" stroke="#000" stroke-width="9"/>
<line x1="302.7" y1="1644.3" x2="323.7" y2="1644.3" stroke="#000" stroke-width="9"/>
<line x1="302.7" y1="1857.6" x2="323.7" y2="1857.6" stroke="#000" stroke-width="9"/>
<line x1="302.7" y1="2070.9" x2="323.7" y2="2070.9" stroke="#000" stroke-width="9"/>
<line x1="302.7" y1="2284.2" x2="323.7" y2="2284.2" stroke="#000" stroke-width="9"/>
<line x1="302.7" y1="1751.0" x2="315.7" y2="1751.0" stroke="#000" stroke-width="9"/>
<line x1="302.7" y1="1964.2" x2="315.7" y2="1964.2" stroke="#000" stroke-width="9"/>
<line x1="302.7" y1="2177.6" x2="315.7" y2="2177.6" stroke="#000" stroke-width="9"/>
<line x1="302.7" y1="2390.8" x2="315.7" y2="2390.8" stroke="#000" stroke-width="9"/>
<rect x="302.7" y="1431.0" width="1367.6" height="1066.5" fill="none" stroke="#000" stroke-width="10.5"/>
<rect x="964" y="1488.5" width="661.5" height="217.9" fill="#fbfbfb" stroke="#000" stroke-width="10.5" stroke-linejoin="round"/>
<line x1="1001.2" y1="1556.4" x2="1174.2" y2="1556.4" stroke="#ff1f24" stroke-width="10.8" stroke-linecap="round"/>
<rect x="1067.7" y="1633.4" width="37" height="37" fill="none" stroke="#2400c0" stroke-width="7"/><rect x="1082.2" y="1649.2" width="8" height="5.5" fill="#2400c0"/>
<text x="1196.96" y="1583.70" font-size="79.50" font-weight="normal" font-style="normal" textLength="366.85" lengthAdjust="spacingAndGlyphs" fill="#000" >Calculated</text>
<text x="1194.90" y="1678.90" font-size="79.00" font-weight="normal" font-style="normal" textLength="346.83" lengthAdjust="spacingAndGlyphs" fill="#000" >Measured</text>
<text x="175.66" y="1454.00" font-size="80.00" font-weight="normal" font-style="normal" textLength="107.87" lengthAdjust="spacingAndGlyphs" fill="#000" >6.0</text>
<text x="175.88" y="1667.30" font-size="80.00" font-weight="normal" font-style="normal" textLength="107.87" lengthAdjust="spacingAndGlyphs" fill="#000" >5.5</text>
<text x="175.66" y="1880.60" font-size="80.00" font-weight="normal" font-style="normal" textLength="107.87" lengthAdjust="spacingAndGlyphs" fill="#000" >5.0</text>
<text x="175.88" y="2093.90" font-size="80.00" font-weight="normal" font-style="normal" textLength="107.87" lengthAdjust="spacingAndGlyphs" fill="#000" >4.5</text>
<text x="175.66" y="2307.20" font-size="80.00" font-weight="normal" font-style="normal" textLength="107.87" lengthAdjust="spacingAndGlyphs" fill="#000" >4.0</text>
<text x="174.46" y="2445.20" font-size="80.00" font-weight="normal" font-style="normal" textLength="107.33" lengthAdjust="spacingAndGlyphs" fill="#008524" >3.6</text>
<text x="175.98" y="2519.80" font-size="80.00" font-weight="normal" font-style="normal" textLength="107.87" lengthAdjust="spacingAndGlyphs" fill="#000" >3.5</text>
<text x="302.20" y="2583.00" font-size="79.50" font-weight="normal" font-style="normal" text-anchor="middle" textLength="42.89" lengthAdjust="spacingAndGlyphs" fill="#000">2</text>
<text x="644.10" y="2583.00" font-size="79.50" font-weight="normal" font-style="normal" text-anchor="middle" textLength="42.89" lengthAdjust="spacingAndGlyphs" fill="#000">4</text>
<text x="986.00" y="2583.00" font-size="79.50" font-weight="normal" font-style="normal" text-anchor="middle" textLength="42.89" lengthAdjust="spacingAndGlyphs" fill="#000">6</text>
<text x="1327.90" y="2583.00" font-size="79.50" font-weight="normal" font-style="normal" text-anchor="middle" textLength="42.89" lengthAdjust="spacingAndGlyphs" fill="#000">8</text>
<text x="1669.80" y="2583.00" font-size="79.50" font-weight="normal" font-style="normal" text-anchor="middle" textLength="85.78" lengthAdjust="spacingAndGlyphs" fill="#000">10</text>
<text x="652.80" y="2703.00" font-size="99.40" font-weight="normal" font-style="normal" textLength="668.46" lengthAdjust="spacingAndGlyphs" fill="#000" >Thickness (nm)</text>
<text transform="translate(143.70,2257.30) rotate(-90)" x="-8.05" y="0" font-size="102.20" font-weight="normal" font-style="normal" textLength="589.24" lengthAdjust="spacingAndGlyphs" fill="#000">Bandgap (ev)</text>
<text x="47.49" y="1462.20" font-size="83.40" font-weight="bold" font-style="normal" textLength="102.71" lengthAdjust="spacingAndGlyphs" fill="#000" >(d)</text>
</svg>
</body></html>
